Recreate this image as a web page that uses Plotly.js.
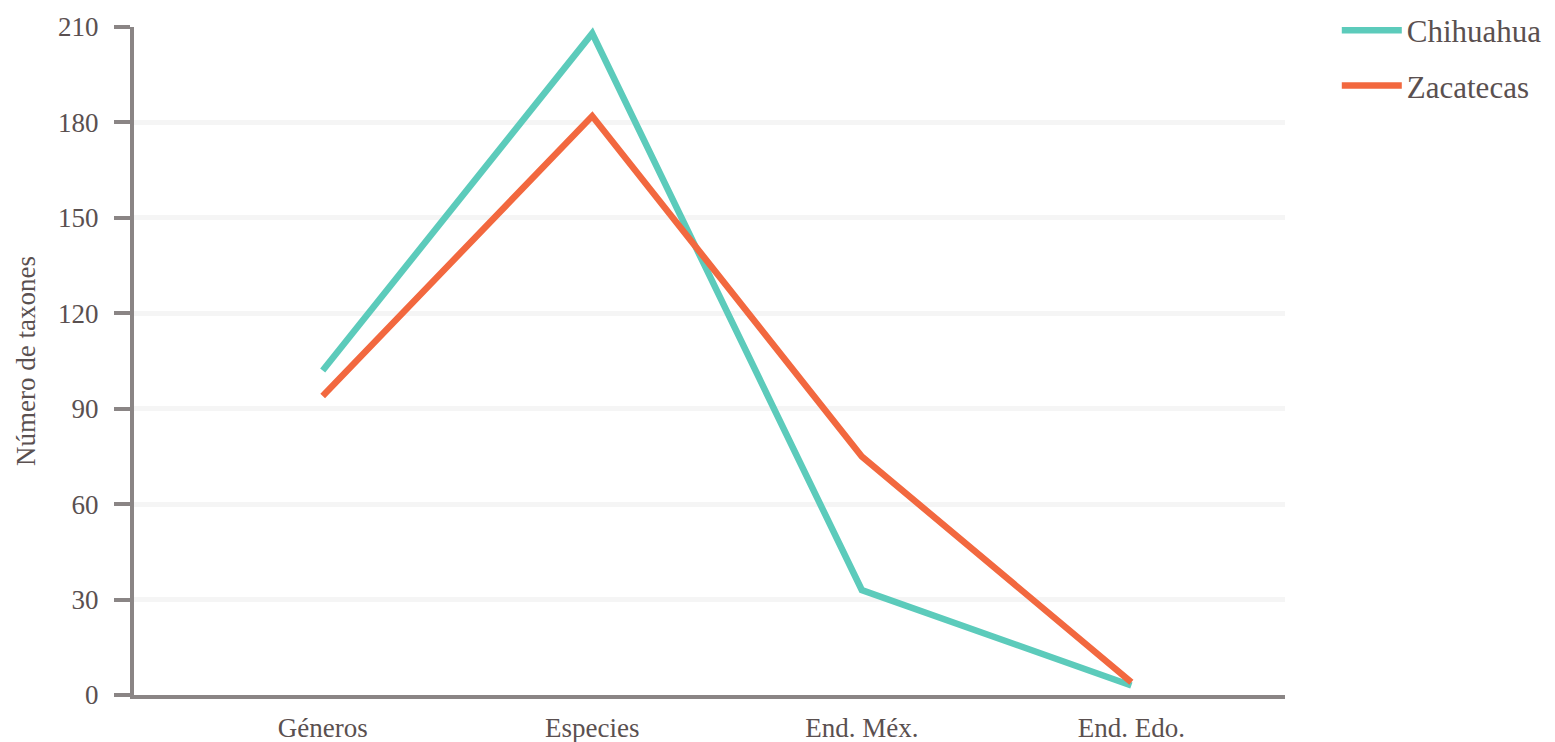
<!DOCTYPE html>
<html>
<head>
<meta charset="utf-8">
<script src="https://cdn.plot.ly/plotly-3.0.1.min.js"></script>
<style>html,body{margin:0;padding:0;background:#fff;}#chart{width:1555px;height:742px;}</style>
</head>
<body>
<div id="chart"></div>
<script>
const categories = ["Géneros", "Especies", "End. Méx.", "End. Edo."];
const chihuahua = [102, 208, 33, 3];
const zacatecas = [94, 182, 75, 4];
const yTicks = [0, 30, 60, 90, 120, 150, 180, 210];

const font = {family: "'Liberation Serif', 'DejaVu Serif', serif", color: "#5a5050"};

const traces = [
  {x: categories, y: chihuahua, name: "Chihuahua", type: "scatter", mode: "lines",
   legendgroup: "a", line: {color: "#5ccbbb", width: 6.5}},
  {x: categories, y: zacatecas, name: "Zacatecas", type: "scatter", mode: "lines",
   legendgroup: "b", line: {color: "#f2683f", width: 6.5}}
];

const layout = {
  width: 1555, height: 742,
  margin: {l: 134, r: 270, t: 27, b: 47, autoexpand: false},
  paper_bgcolor: "#ffffff", plot_bgcolor: "#ffffff",
  font: Object.assign({size: 27}, font),
  showlegend: true,
  legend: {x: 1.045, y: 1.035, xanchor: "left", yanchor: "top",
           font: Object.assign({size: 31}, font), itemwidth: 60, tracegroupgap: 12},
  xaxis: {
    type: "category", range: [-0.7, 3.57],
    showgrid: false, zeroline: false,
    showline: true, linecolor: "#8a8585", linewidth: 4,
    ticks: "", ticklabelstandoff: 6,
    tickfont: Object.assign({size: 27}, font)
  },
  yaxis: {
    range: [0, 210], tickvals: yTicks, ticktext: yTicks.map(String),
    showgrid: true, gridcolor: "#f5f5f5", gridwidth: 5,
    zeroline: false,
    showline: true, linecolor: "#8a8585", linewidth: 4,
    ticks: "outside", ticklen: 16, tickwidth: 4, tickcolor: "#8a8585",
    ticklabelstandoff: 10,
    tickfont: Object.assign({size: 27}, font),
    title: {text: "Número de taxones", font: Object.assign({size: 27}, font), standoff: 16}
  }
};

Plotly.newPlot("chart", traces, layout, {displayModeBar: false, staticPlot: true});
</script>
</body>
</html>
